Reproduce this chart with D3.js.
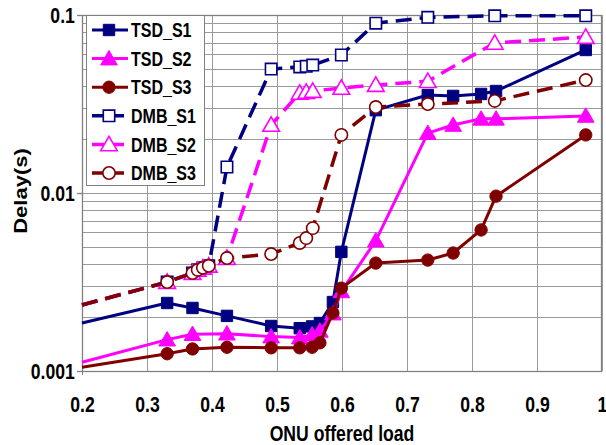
<!DOCTYPE html>
<html>
<head>
<meta charset="utf-8">
<script src="https://cdn.jsdelivr.net/npm/d3@7"></script>
<style>
  html, body { margin: 0; padding: 0; background: #fff; }
  svg { display: block; }
  text { font-family: "Liberation Sans", Arial, sans-serif; font-weight: bold; fill: #000; }
</style>
</head>
<body>
<svg id="chart" width="606" height="445"></svg>
<script>
// ---- data ----
const seriesNames = ["TSD_S1", "TSD_S2", "TSD_S3", "DMB_S1", "DMB_S2", "DMB_S3"];
const xTSD = [0.2, 0.331, 0.37, 0.423, 0.491, 0.535, 0.554, 0.566, 0.586, 0.599, 0.652, 0.732, 0.771, 0.814, 0.837, 0.975];
const xDMB = [0.2, 0.331, 0.37, 0.378, 0.386, 0.395, 0.423, 0.491, 0.535, 0.545, 0.555, 0.599, 0.652, 0.732, 0.835, 0.975];
const TSD_S1 = [0.00186, 0.00241, 0.00226, 0.00204, 0.00179, 0.00174, 0.00178, 0.00186, 0.00244, 0.00467, 0.0292, 0.0355, 0.0351, 0.036, 0.0374, 0.0636];
const TSD_S2 = [0.00112, 0.00150, 0.00161, 0.00162, 0.00156, 0.00154, 0.00160, 0.00168, 0.0021, 0.0028, 0.0054, 0.0217, 0.0241, 0.0261, 0.0261, 0.0271];
const TSD_S3 = [0.00105, 0.00125, 0.00133, 0.00136, 0.00135, 0.00135, 0.00136, 0.00144, 0.00212, 0.00292, 0.00404, 0.0042, 0.0046, 0.0062, 0.0096, 0.0212];
const DMB_S1 = [0.00235, 0.00316, 0.00355, 0.0037, 0.0038, 0.0039, 0.0140, 0.0497, 0.0511, 0.0515, 0.0523, 0.0596, 0.090, 0.097, 0.099, 0.099];
const DMB_S2 = [0.00235, 0.00316, 0.00355, 0.0037, 0.0038, 0.0039, 0.00431, 0.0241, 0.0365, 0.0369, 0.0374, 0.0389, 0.0404, 0.0425, 0.0697, 0.0752];
const DMB_S3 = [0.00235, 0.00316, 0.00355, 0.0037, 0.0038, 0.0039, 0.00431, 0.00454, 0.00524, 0.00558, 0.00635, 0.0212, 0.0304, 0.0316, 0.0329, 0.0431];
const xTickValues = [0.2, 0.3, 0.4, 0.5, 0.6, 0.7, 0.8, 0.9, 1];
const xTickLabels = ["0.2", "0.3", "0.4", "0.5", "0.6", "0.7", "0.8", "0.9", "1"];
const yTickValues = [0.001, 0.01, 0.1];
const yTickLabels = ["0.001", "0.01", "0.1"];
const xTitle = "ONU offered load";
const yTitle = "Delay(s)";

// ---- styles ----
const NAVY = "#000080", MAG = "#FF00FF", DRED = "#800000";
const seriesStyle = [
  { color: NAVY, dashed: false, shape: "square",   filled: true },
  { color: MAG,  dashed: false, shape: "triangle", filled: true },
  { color: DRED, dashed: false, shape: "circle",   filled: true },
  { color: NAVY, dashed: true,  shape: "square",   filled: false },
  { color: MAG,  dashed: true,  shape: "triangle", filled: false },
  { color: DRED, dashed: true,  shape: "circle",   filled: false }
];
const seriesData = [
  { x: xTSD, y: TSD_S1 }, { x: xTSD, y: TSD_S2 }, { x: xTSD, y: TSD_S3 },
  { x: xDMB, y: DMB_S1 }, { x: xDMB, y: DMB_S2 }, { x: xDMB, y: DMB_S3 }
];

const svg = d3.select("#chart");
const L = 82, R = 602, T = 15, B = 371;
const x = d3.scaleLinear().domain([0.2, 1]).range([L, R]);
const y = d3.scaleLog().domain([0.001, 0.1]).range([B, T]);
const GRID = "#9a9a9a", FRAME = "#808080";
const SX = 0.8;

// gridlines
const grid = svg.append("g");
grid.selectAll("line.h").data(y.ticks()).enter().append("line")
  .attr("x1", L).attr("x2", R)
  .attr("y1", d => Math.round(y(d)) + 0.5).attr("y2", d => Math.round(y(d)) + 0.5)
  .attr("stroke", GRID).attr("stroke-width", 1);
grid.selectAll("line.v").data(xTickValues).enter().append("line")
  .attr("y1", T).attr("y2", B)
  .attr("x1", d => Math.round(x(d)) + 0.5).attr("x2", d => Math.round(x(d)) + 0.5)
  .attr("stroke", GRID).attr("stroke-width", 1);

// frame
svg.append("rect").attr("x", L + 0.5).attr("y", T + 0.5).attr("width", R - L - 1).attr("height", B - T)
  .attr("fill", "none").attr("stroke", FRAME).attr("stroke-width", 1.3);

// axes
const yAxis = svg.append("g").attr("transform", `translate(${L},0)`)
  .call(d3.axisLeft(y).tickValues(yTickValues).tickFormat((d, i) => yTickLabels[i]).tickSize(5).tickPadding(4));
yAxis.select(".domain").attr("stroke", FRAME).attr("d", `M0.5,${T}V${B + 4}`);
yAxis.selectAll(".tick line").attr("stroke", FRAME).attr("stroke-width", 1.3);
yAxis.selectAll(".tick text").attr("font-size", 22).attr("font-family", null)
  .attr("transform", `scale(${SX},1)`);

const xAxis = svg.append("g").attr("transform", `translate(0,${B})`)
  .call(d3.axisBottom(x).tickValues(xTickValues).tickFormat((d, i) => xTickLabels[i]).tickSize(0).tickPadding(25));
xAxis.select(".domain").remove();
xAxis.selectAll(".tick text").attr("font-size", 22).attr("font-family", null)
  .attr("transform", `scale(${SX},1)`);

// titles
svg.append("g").attr("transform", `translate(${(L + R) / 2 + 0},441) scale(${SX},1)`)
  .append("text").attr("text-anchor", "middle").attr("font-size", 22).text(xTitle);
svg.append("g").attr("transform", `translate(27,191) scale(${SX},1) rotate(-90)`)
  .append("text").attr("text-anchor", "middle").attr("font-size", 22).text(yTitle);

// markers
function symbolFor(shape) {
  if (shape === "square") return d3.symbol(d3.symbolSquare, 130)();
  if (shape === "triangle") return d3.symbol(d3.symbolTriangle, 120)();
  return d3.symbol(d3.symbolCircle, 120)();
}
function drawMarker(g, st, cx, cy) {
  g.append("path").attr("d", symbolFor(st.shape))
    .attr("transform", `translate(${cx},${cy + (st.shape === "triangle" ? 1.5 : 0)})`)
    .attr("fill", st.filled ? st.color : "#fff")
    .attr("stroke", st.color).attr("stroke-width", st.filled ? 1 : 1.6);
}

// series
const plot = svg.append("g");
const line = d3.line().x(d => x(d[0])).y(d => y(d[1]));
seriesData.forEach((sd, i) => {
  const st = seriesStyle[i];
  const pts = sd.x.map((xv, j) => [xv, sd.y[j]]);
  const g = plot.append("g");
  g.append("path").attr("d", line(pts)).attr("fill", "none")
    .attr("stroke", st.color).attr("stroke-width", st.dashed ? 3.5 : 3)
    .attr("stroke-dasharray", st.dashed ? "16,8" : null).attr("stroke-linejoin", "round");
  pts.filter(p => p[0] > x.domain()[0]).forEach(p => drawMarker(g, st, x(p[0]), y(p[1])));
});

// legend
const lg = svg.append("g");
lg.append("rect").attr("x", 86.5).attr("y", 15.5).attr("width", 118).attr("height", 170)
  .attr("fill", "#fff").attr("stroke", FRAME).attr("stroke-width", 1);
seriesNames.forEach((name, i) => {
  const st = seriesStyle[i];
  const yy = 30 + i * 28.6;
  const g = lg.append("g");
  g.append("line").attr("x1", 92).attr("x2", 128).attr("y1", yy).attr("y2", yy)
    .attr("stroke", st.color).attr("stroke-width", st.dashed ? 3.5 : 3)
    .attr("stroke-dasharray", st.dashed ? "12,8" : null);
  drawMarker(g, st, 109, yy);
  g.append("g").attr("transform", `translate(131,${yy}) scale(${SX},1)`)
    .append("text").attr("dy", "0.36em").attr("font-size", 20).text(name);
});
</script>
</body>
</html>
